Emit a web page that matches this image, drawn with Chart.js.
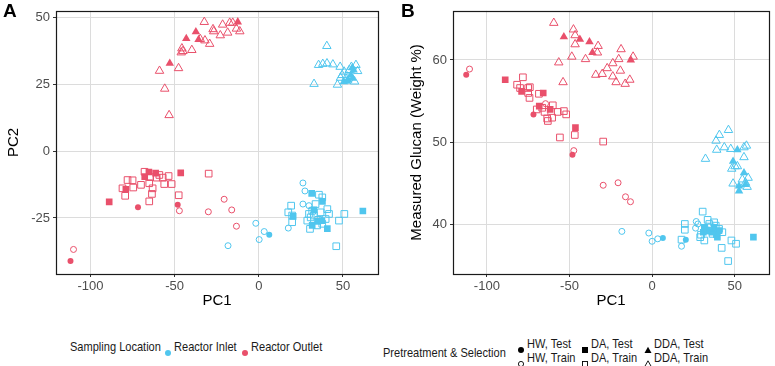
<!DOCTYPE html>
<html>
<head>
<meta charset="utf-8">
<script src="https://cdn.jsdelivr.net/npm/chart.js@4.4.0/dist/chart.umd.min.js"></script>
<style>
  body { margin: 0; background: #fff; width: 775px; height: 366px; overflow: hidden; position: relative; font-family: 'Liberation Sans', Arial, sans-serif; }
  canvas { position: absolute; top: 0; }
  #chartA { left: 0; }
  #chartB { left: 385px; }
  .tag { position: absolute; top: 0; font-weight: bold; font-size: 19px; color: #000; }
  .leg { position: absolute; font-size: 13px; color: #1a1a1a; white-space: nowrap; line-height: 14px; transform: scaleX(0.85); transform-origin: 0 50%; }
  .sym { position: absolute; width: 8px; height: 8px; }
</style>
</head>
<body>
<canvas id="chartA" width="385" height="316"></canvas>
<canvas id="chartB" width="390" height="316"></canvas>
<div class="tag" style="left:3px">A</div>
<div class="tag" style="left:401px">B</div>
<div id="legend"></div>
<script>
const RED = '#E9506B';
const BLUE = '#50C6EE';

const xTicks = [-100, -50, 0, 50];
const pc2Ticks = [-25, 0, 25, 50];
const glucanTicks = [40, 50, 60];

// ---- panel A: PC1 vs PC2 ----
const outletA_hwTest = [[-111.9, -41.1], [-71.8, -21.0], [-48.2, -20.1]];
const outletA_hwTrain = [[-110.1, -36.8], [-47.2, -22.3], [-30.0, -22.7], [-20.6, -18.0], [-16.1, -22.0], [-13.3, -28.1]];
const outletA_daTest = [[-88.9, -19.0], [-79.0, -14.3], [-67.8, -9.5], [-65.3, -7.8], [-61.3, -8.2], [-46.4, -8.1]];
const outletA_daTrain = [[-78.0, -10.8], [-75.0, -10.9], [-81.0, -13.9], [-79.4, -16.7], [-74.6, -13.6], [-70.0, -12.6],
  [-67.9, -7.7], [-65.1, -12.0], [-64.7, -9.7], [-63.1, -13.9], [-63.5, -16.0], [-65.1, -18.8], [-60.7, -9.9],
  [-59.1, -8.9], [-56.2, -12.3], [-53.6, -9.3], [-51.8, -12.3], [-47.6, -16.5], [-29.8, -8.4], [-57.1, -9.9]];
const outletA_ddaTest = [[-43.1, 42.2], [-37.4, 44.7], [-35.8, 41.8], [-12.5, 48.4], [-52.9, 32.9]];
const outletA_ddaTrain = [[-32.4, 48.4], [-27.2, 45.7], [-26.8, 44.9], [-21.5, 47.4], [-17.3, 48.1], [-15.5, 48.1],
  [-13.3, 45.9], [-11.3, 44.9], [-22.9, 43.4], [-18.5, 44.4], [-34.8, 42.0], [-32.0, 41.5], [-29.2, 40.2],
  [-45.7, 38.5], [-45.1, 37.5], [-39.8, 37.9], [-46.1, 37.0], [-47.7, 31.1], [-59.0, 30.1], [-55.9, 23.4], [-53.3, 13.5]];

const inletA_hwTest = [[6.2, -31.3]];
const inletA_hwTrain = [[-1.8, -27.0], [3.2, -30.1], [0.2, -33.1], [-18.3, -35.4], [17.5, -28.8], [26.2, -11.9],
  [27.4, -14.9], [26.2, -19.8], [29.8, -20.4]];
const inletA_daTest = [[31.4, -15.8], [20.4, -24.4], [61.8, -22.4], [40.7, -29.0], [37.8, -18.8], [32.7, -22.0],
  [37.5, -26.0], [35.0, -26.3], [31.7, -27.8]];
const inletA_daTrain = [[19.2, -20.4], [17.5, -22.9], [19.8, -24.1], [19.8, -26.6], [30.4, -29.1], [35.7, -16.3],
  [37.7, -17.3], [41.7, -23.5], [39.7, -25.4], [47.6, -26.0], [50.8, -23.5], [46.0, -35.6], [33.7, -19.8],
  [31.7, -22.3], [30.8, -24.8], [28.8, -26.0], [34.7, -27.8], [37.7, -27.2], [40.7, -21.7], [32.7, -24.1],
  [36.7, -22.9], [35.3, -25.7], [29.8, -23.5]];
const inletA_ddaTest = [[53.1, 26.7], [54.7, 28.5], [56.3, 30.4], [52.3, 26.2], [55.7, 27.3], [50.5, 26.0], [55.5, 31.2]];
const inletA_ddaTrain = [[40.4, 39.4], [35.5, 32.3], [38.0, 32.7], [40.5, 32.9], [44.0, 32.5], [32.8, 25.2], [46.7, 24.9],
  [48.3, 31.6], [49.5, 28.5], [50.7, 29.8], [53.7, 30.4], [55.0, 31.6], [57.7, 32.3], [58.7, 30.0], [56.9, 26.1],
  [51.7, 27.3], [48.5, 27.5]];

// ---- panel B: PC1 vs measured glucan ----
const outletB_hwTest = [[-112.5, 58.2], [-71.8, 53.4], [-48.2, 48.5]];
const outletB_hwTrain = [[-110.5, 58.9], [-47.4, 49.0], [-29.6, 44.8], [-20.6, 45.1], [-16.1, 43.4], [-13.1, 42.8], [-64.5, 54.7]];
const outletB_daTest = [[-88.9, 57.6], [-79.0, 56.2], [-68.3, 54.4], [-65.9, 56.0], [-61.7, 54.0], [-46.4, 51.8]];
const outletB_daTrain = [[-81.7, 57.0], [-79.9, 56.6], [-78.2, 57.9], [-75.0, 56.6], [-74.0, 56.7], [-75.0, 56.0],
  [-74.2, 55.4], [-68.5, 55.9], [-69.8, 54.0], [-66.5, 54.2], [-65.1, 53.7], [-63.5, 52.9], [-63.1, 52.6],
  [-60.5, 53.0], [-60.1, 54.5], [-57.1, 53.7], [-53.4, 53.8], [-52.0, 53.4], [-55.8, 50.6], [-46.8, 50.9], [-29.6, 50.1]];
const outletB_ddaTest = [[-53.4, 62.8], [-43.7, 62.5], [-37.9, 62.2], [-36.1, 60.9], [-12.9, 60.0]];
const outletB_ddaTrain = [[-59.5, 64.5], [-47.6, 63.7], [-46.6, 63.0], [-46.6, 61.9], [-48.6, 60.4], [-56.5, 59.7],
  [-53.9, 57.3], [-40.3, 60.1], [-32.7, 61.7], [-33.1, 60.9], [-34.1, 58.2], [-30.2, 58.3], [-27.2, 59.0],
  [-23.8, 59.6], [-20.2, 60.1], [-18.8, 61.3], [-19.2, 58.7], [-23.8, 58.0], [-21.8, 57.3], [-16.3, 57.1],
  [-13.5, 57.6], [-11.5, 60.4]];

const inletB_hwTest = [[6.5, 38.4], [20.4, 38.2]];
const inletB_hwTrain = [[-18.3, 39.2], [-2.0, 39.0], [0.0, 38.0], [3.4, 38.3], [17.8, 37.4], [26.7, 40.4], [26.3, 39.6], [27.7, 40.1]];
const inletB_daTest = [[61.3, 38.5], [31.6, 39.7], [33.6, 39.3], [36.2, 39.1], [38.9, 38.8], [40.5, 39.3], [37.5, 39.7],
  [31.0, 39.1], [39.5, 38.5]];
const inletB_daTrain = [[30.6, 41.6], [19.8, 40.1], [19.8, 39.4], [17.8, 38.2], [33.6, 40.6], [29.1, 38.5], [31.6, 38.1],
  [42.1, 37.2], [46.0, 35.6], [48.0, 38.1], [50.8, 37.7], [42.5, 39.1], [37.5, 40.3], [38.5, 39.9], [35.6, 39.7],
  [40.5, 39.5], [32.6, 39.3], [29.6, 38.8], [36.6, 38.9], [34.6, 40.1]];
const inletB_ddaTest = [[51.6, 49.1], [49.0, 47.7], [55.6, 46.3], [52.6, 44.7], [52.6, 44.1], [56.5, 44.9]];
const inletB_ddaTrain = [[46.2, 51.5], [40.7, 50.9], [38.7, 50.2], [39.1, 49.1], [43.7, 49.4], [47.6, 49.2], [55.6, 49.4],
  [57.1, 49.6], [32.3, 48.0], [55.6, 48.2], [48.2, 46.8], [51.6, 47.1], [58.1, 45.7], [56.5, 45.1], [49.0, 45.0],
  [54.6, 45.5], [57.5, 44.6], [50.2, 47.1]];

const SIZES = { circle: 3.0, rect: 4.7, triangle: 4.9 };

function pts(arr) {
  return arr.map(p => ({ x: p[0], y: p[1] }));
}

function set(arr, color, shape, filled) {
  return {
    data: pts(arr),
    pointStyle: shape,
    pointRadius: SIZES[shape],
    backgroundColor: filled ? color : 'rgba(0,0,0,0)',
    borderColor: color,
    borderWidth: filled ? 0 : 1,
    showLine: false
  };
}

const panelBorder = {
  id: 'panelBorder',
  afterDraw(chart) {
    const { ctx, chartArea: a } = chart;
    ctx.save();
    ctx.strokeStyle = '#1a1a1a';
    ctx.lineWidth = 1.2;
    ctx.strokeRect(Math.round(a.left) + 0.5, Math.round(a.top) + 0.5, Math.round(a.right - a.left), Math.round(a.bottom - a.top));
    ctx.restore();
  }
};

const tickFont = { family: "'Liberation Sans', Arial, sans-serif", size: 13 };
const titleFont = { family: "'Liberation Sans', Arial, sans-serif", size: 15 };

function makeChart(id, sets, yTicks, yMin, yMax, yTitle, yWidth, yTitlePad, padRight) {
  return new Chart(document.getElementById(id), {
    type: 'scatter',
    data: { datasets: sets },
    options: {
      responsive: false,
      animation: false,
      devicePixelRatio: 1,
      layout: { padding: { left: 0, right: padRight, top: 8, bottom: 0 } },
      plugins: { legend: { display: false }, tooltip: { enabled: false } },
      scales: {
        x: {
          type: 'linear', min: -120.5, max: 70.8,
          afterBuildTicks: s => { s.ticks = xTicks.map(v => ({ value: v })); },
          afterFit: s => { s.height = 42; },
          grid: { color: '#DCDCDC', tickColor: '#333', tickLength: 3 },
          border: { display: false },
          ticks: { color: '#4D4D4D', font: tickFont, padding: 2, maxRotation: 0 },
          title: { display: true, text: 'PC1', color: '#000', font: titleFont, padding: { top: 0, bottom: 6 } }
        },
        y: {
          type: 'linear', min: yMin, max: yMax,
          afterBuildTicks: s => { s.ticks = yTicks.map(v => ({ value: v })); },
          afterFit: s => { s.width = yWidth; },
          grid: { color: '#DCDCDC', tickColor: '#333', tickLength: 3 },
          border: { display: false },
          ticks: { color: '#4D4D4D', font: tickFont, padding: 3 },
          title: { display: true, text: yTitle, color: '#000', font: titleFont, padding: { top: yTitlePad, bottom: 0 } }
        }
      }
    },
    plugins: [panelBorder]
  });
}

makeChart('chartA', [
  set(inletA_hwTrain, BLUE, 'circle', false),
  set(inletA_daTrain, BLUE, 'rect', false),
  set(inletA_ddaTrain, BLUE, 'triangle', false),
  set(outletA_hwTrain, RED, 'circle', false),
  set(outletA_daTrain, RED, 'rect', false),
  set(outletA_ddaTrain, RED, 'triangle', false),
  set(inletA_hwTest, BLUE, 'circle', true),
  set(inletA_daTest, BLUE, 'rect', true),
  set(inletA_ddaTest, BLUE, 'triangle', true),
  set(outletA_hwTest, RED, 'circle', true),
  set(outletA_daTest, RED, 'rect', true),
  set(outletA_ddaTest, RED, 'triangle', true)
], pc2Ticks, -46.0, 52.6, 'PC2', 56, 5, 7);

makeChart('chartB', [
  set(inletB_hwTrain, BLUE, 'circle', false),
  set(inletB_daTrain, BLUE, 'rect', false),
  set(inletB_ddaTrain, BLUE, 'triangle', false),
  set(outletB_hwTrain, RED, 'circle', false),
  set(outletB_daTrain, RED, 'rect', false),
  set(outletB_ddaTrain, RED, 'triangle', false),
  set(inletB_hwTest, BLUE, 'circle', true),
  set(inletB_daTest, BLUE, 'rect', true),
  set(inletB_ddaTest, BLUE, 'triangle', true),
  set(outletB_hwTest, RED, 'circle', true),
  set(outletB_daTest, RED, 'rect', true),
  set(outletB_ddaTest, RED, 'triangle', true)
], glucanTicks, 34.03, 65.97, 'Measured Glucan (Weight %)', 68, 23, 2);

// ---- legends (HTML, condensed text like the original) ----
function sym(shape, filled, color) {
  const f = filled ? color : 'none';
  const s = filled ? 'none' : color;
  let body = '';
  if (shape === 'circle') body = `<circle cx="4" cy="4" r="${filled ? 3 : 2.6}" fill="${f}" stroke="${s}" stroke-width="0.9"/>`;
  if (shape === 'rect') body = `<rect x="${filled ? 1 : 1.5}" y="${filled ? 1 : 1.5}" width="${filled ? 6 : 5}" height="${filled ? 6 : 5}" fill="${f}" stroke="${s}" stroke-width="0.9"/>`;
  if (shape === 'triangle') body = `<polygon points="4,0.8 7.5,7 0.5,7" fill="${f}" stroke="${s}" stroke-width="0.9"/>`;
  return `<svg width="8" height="8" viewBox="0 0 8 8">${body}</svg>`;
}

const locationLabels = ['Reactor Inlet', 'Reactor Outlet'];
const locationColors = [BLUE, RED];
const treatLabels = ['HW', 'DA', 'DDA'];
const treatShapes = ['circle', 'rect', 'triangle'];
const selectLabels = ['Test', 'Train'];

let html = '';
html += `<div class="leg" style="left:70px;top:340px">Sampling Location</div>`;
const locX = [164, 241];
locationLabels.forEach((lab, i) => {
  html += `<div class="sym" style="left:${locX[i]}px;top:343px">${sym('circle', true, locationColors[i])}</div>`;
  html += `<div class="leg" style="left:${locX[i] + 10}px;top:340px">${lab}</div>`;
});
html += `<div class="leg" style="left:383px;top:346px">Pretreatment &amp; Selection</div>`;
const colX = [517, 581, 644];
selectLabels.forEach((sel, r) => {
  treatLabels.forEach((tr, c) => {
    const y = 337 + r * 14;
    html += `<div class="sym" style="left:${colX[c]}px;top:${y + 3}px">${sym(treatShapes[c], r === 0, '#000')}</div>`;
    html += `<div class="leg" style="left:${colX[c] + 10}px;top:${y}px">${tr}, ${sel}</div>`;
  });
});
document.getElementById('legend').innerHTML = html;
</script>
</body>
</html>
